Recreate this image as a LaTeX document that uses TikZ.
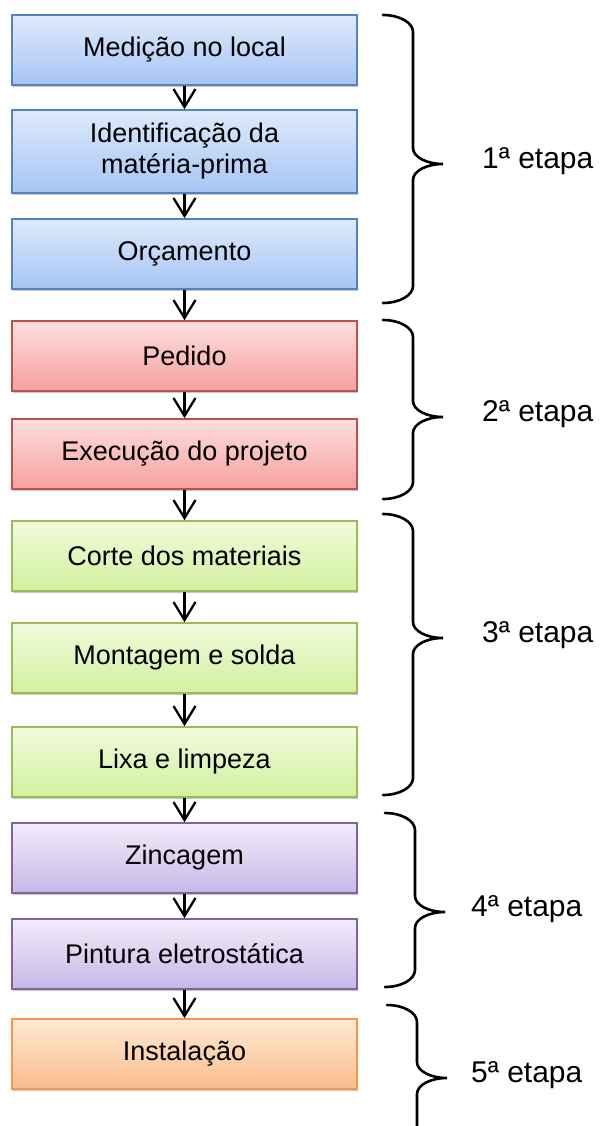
\documentclass[tikz,border=0pt]{standalone}
\usepackage{fontspec}
\setmainfont{Liberation Sans}
\usetikzlibrary{arrows.meta,shadows}
\definecolor{bluetop}{RGB}{222,234,251}
\definecolor{bluebot}{RGB}{166,197,245}
\definecolor{blueline}{RGB}{84,130,190}
\definecolor{redtop}{RGB}{255,222,222}
\definecolor{redbot}{RGB}{245,160,160}
\definecolor{redline}{RGB}{192,80,77}
\definecolor{greentop}{RGB}{242,251,220}
\definecolor{greenbot}{RGB}{208,240,158}
\definecolor{greenline}{RGB}{155,187,89}
\definecolor{purptop}{RGB}{242,237,250}
\definecolor{purpbot}{RGB}{198,183,230}
\definecolor{purpline}{RGB}{128,100,162}
\definecolor{orantop}{RGB}{254,234,214}
\definecolor{oranbot}{RGB}{251,188,138}
\definecolor{oranline}{RGB}{247,150,70}
\newcommand\mybrace[4]{%
  \draw[bracestyle] (#1,#2) .. controls +(16.5,0) and +(0,-9.4) .. (#1+30,#2+17)
    -- (#1+30,#3-16) .. controls +(0,9) and +(-16.5,0) .. (#1+60,#3)
    .. controls +(-16.5,0) and +(0,-9) .. (#1+30,#3+16)
    -- (#1+30,#4-17) .. controls +(0,9.4) and +(16.5,0) .. (#1,#4);}
\begin{document}
\begin{tikzpicture}[x=1pt,y=-1pt,
  box/.style={draw, line width=1.6pt, minimum width=345pt, minimum height=70pt,
    inner sep=0pt, align=center, font=\fontsize{27}{31}\selectfont,
    drop shadow={shadow xshift=0.6pt, shadow yshift=-2pt, fill=black, opacity=0.22}},
  bluebox/.style={box, top color=bluetop, bottom color=bluebot, draw=blueline},
  redbox/.style={box, top color=redtop, bottom color=redbot, draw=redline},
  greenbox/.style={box, top color=greentop, bottom color=greenbot, draw=greenline},
  purpbox/.style={box, top color=purptop, bottom color=purpbot, draw=purpline},
  oranbox/.style={box, top color=orantop, bottom color=oranbot, draw=oranline},
  flow/.style={line width=2.3pt, -{Straight Barb[length=18pt,width=22pt,line width=2.3pt]}},
  bracestyle/.style={line width=2.6pt, line cap=round},
  stage/.style={anchor=base west, inner sep=0pt, font=\fontsize{30}{34}\selectfont}]
\useasboundingbox (0,0) rectangle (600,1126);
\node[bluebox] (b1) at (184.5,50) {Medição no local};
\node[bluebox, minimum height=83pt] (b2) at (184.5,151.5) {Identificação da\\matéria-prima};
\node[bluebox] (b3) at (184.5,254) {Orçamento};
\node[redbox] (b4) at (184.5,356) {Pedido};
\node[redbox] (b5) at (184.5,454) {Execução do projeto};
\node[greenbox] (b6) at (184.5,556) {Corte dos materiais};
\node[greenbox] (b7) at (184.5,658) {Montagem e solda};
\node[greenbox] (b8) at (184.5,762) {Lixa e limpeza};
\node[purpbox] (b9) at (184.5,858) {Zincagem};
\node[purpbox] (b10) at (184.5,954) {Pintura eletrostática};
\node[oranbox] (b11) at (184.5,1054) {Instalação};
\foreach \a/\b in {b1/b2,b2/b3,b3/b4,b4/b5,b5/b6,b6/b7,b7/b8,b8/b9,b9/b10,b10/b11}
  \draw[flow] (\a.south) -- (\b.north);
\mybrace{383}{15}{164}{303}
\mybrace{383}{320}{417}{499}
\mybrace{383}{514}{638}{795}
\mybrace{385}{813}{912}{987}
\mybrace{387}{1005}{1078}{1151}
\node[stage] (s1) at (482,168) {1ª etapa};
\node[stage] (s2) at (482,421) {2ª etapa};
\node[stage] (s3) at (482,642) {3ª etapa};
\node[stage] (s4) at (471,916) {4ª etapa};
\node[stage] (s5) at (471,1082) {5ª etapa};
\end{tikzpicture}
\end{document}
